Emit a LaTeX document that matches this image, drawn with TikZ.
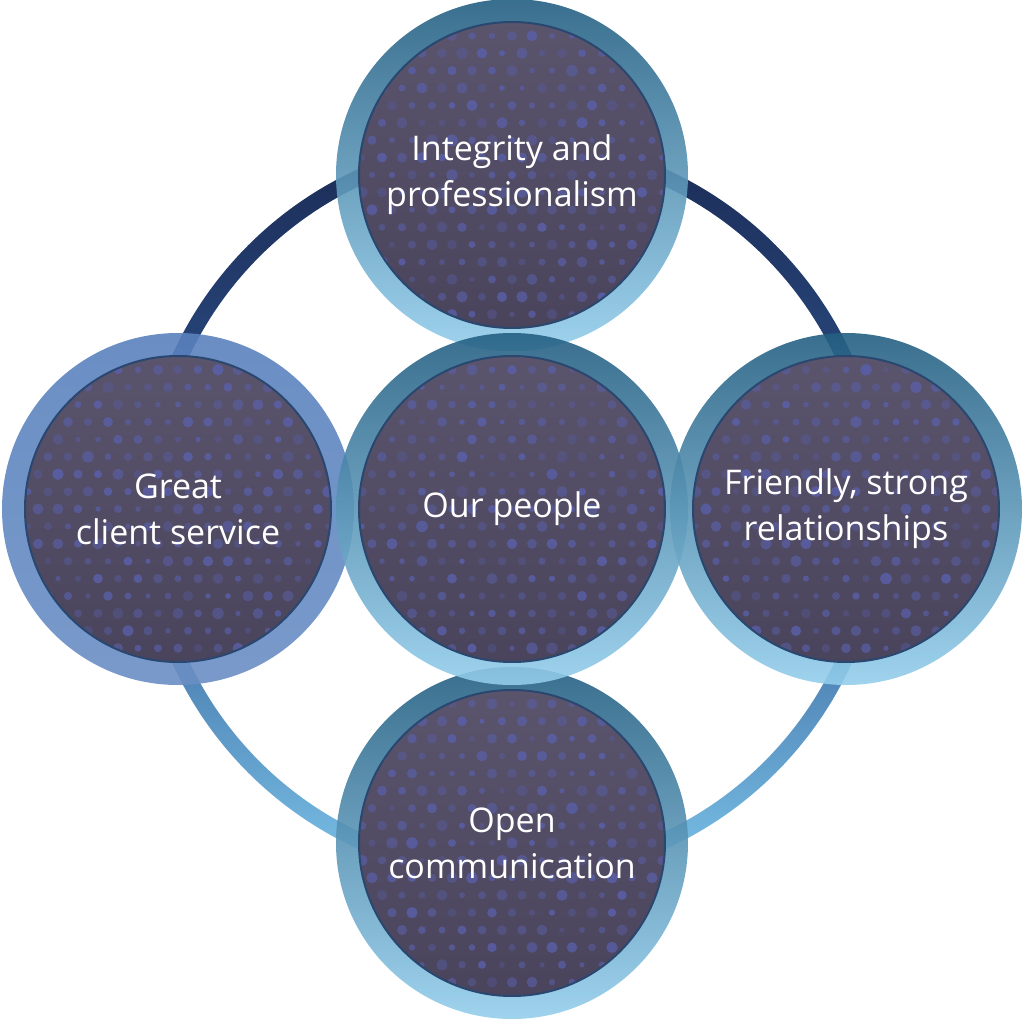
\documentclass[tikz,border=0pt]{standalone}
\usepackage{fontspec}
\setmainfont{Open Sans}
\usetikzlibrary{backgrounds}
\definecolor{ringtop}{HTML}{1B2B55}
\definecolor{ringmid}{HTML}{2F5690}
\definecolor{ringbot}{HTML}{7CC4EA}
\definecolor{rimtop}{HTML}{245F82}
\definecolor{rimbot}{HTML}{94CEEC}
\definecolor{rimleft}{HTML}{5A82BE}
\definecolor{disctop}{HTML}{5B556E}
\definecolor{discbot}{HTML}{48425A}
\definecolor{dotblue}{HTML}{5A60AA}
\definecolor{discedge}{HTML}{2A4770}
\pgfmathsetseed{7}
\tikzstyle{value} = [circle, minimum size=176pt, inner sep=0pt, align=center,
                     top color=rimtop, bottom color=rimbot, fill opacity=0.9, text opacity=1,
                     text=white, font=\fontsize{17}{23}\selectfont,
                     path picture={
                       \fill[top color=disctop, bottom color=discbot, fill opacity=1]
                         (path picture bounding box.center) circle (76.5pt);
                       \begin{scope}
                         \clip (path picture bounding box.center) circle (76.5pt);
                         \foreach \i in {-8,...,8}
                           \foreach \j in {-9,...,9} {
                             \pgfmathsetmacro\dotop{0.3+0.55*rnd}
                             \pgfmathsetmacro\dotr{1.3+1.6*rnd}
                             \fill[dotblue, fill opacity=\dotop]
                               (path picture bounding box.center) ++({\i*10pt+mod(\j,2)*5pt},{\j*8.7pt}) circle (\dotr pt);
                           }
                       \end{scope}
                       \draw[discedge, line width=1pt, draw opacity=1]
                         (path picture bounding box.center) circle (76.5pt);
                     }]

\begin{document}
\begin{tikzpicture}
  \useasboundingbox (-256pt,-257.5pt) rectangle (256pt,254.5pt);
  \coordinate (mid) at (0,0);

  \node (integrity) [value] at (90:167pt)  {Integrity and\\professionalism};
  \node (service)   [value, top color=rimleft, bottom color=rimleft!90!white] at (180:167pt) {Great\\client service};
  \node (friendly)  [value] at (0:167pt)   {Friendly, strong\\relationships};
  \node (open)      [value] at (270:167pt) {Open\\communication};
  \node (people)    [value] at (mid)       {Our people};

  % the big ring behind the five circles
  \begin{scope}[on background layer]
    \shade[top color=ringtop, bottom color=ringbot, middle color=ringmid, even odd rule]
      (mid) circle (186.5pt) (mid) circle (178.5pt);
  \end{scope}
\end{tikzpicture}
\end{document}
